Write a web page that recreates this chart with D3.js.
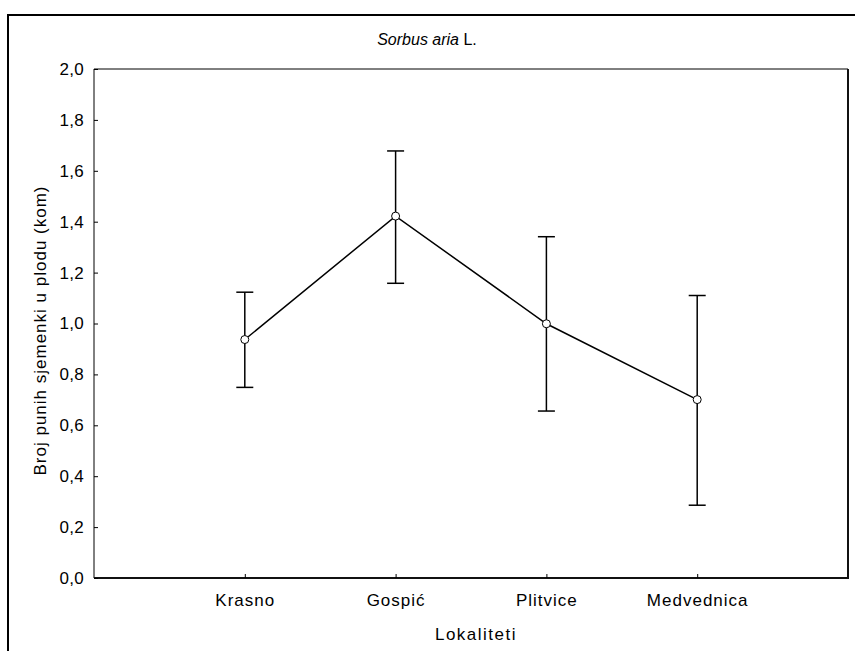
<!DOCTYPE html>
<html><head><meta charset="utf-8">
<script src="https://cdn.jsdelivr.net/npm/d3@7"></script>
<style>
body{margin:0;background:#fff;}
text{font-family:"Liberation Sans",Arial,sans-serif;fill:#000;}
</style></head><body>
<script>
const categories = ["Krasno","Gospić","Plitvice","Medvednica"];
const means = [0.937, 1.422, 0.999, 0.701];
const upper = [1.123, 1.678, 1.341, 1.110];
const lower = [0.749, 1.158, 0.656, 0.286];
const yTicks = [0,0.2,0.4,0.6,0.8,1.0,1.2,1.4,1.6,1.8,2.0];
const title = "Sorbus aria";
const xTitle = "Lokaliteti";
const yTitle = "Broj punih sjemenki u plodu (kom)";

const W=855,H=651;
const svg=d3.select("body").append("svg").attr("width",W).attr("height",H);
svg.append("rect").attr("width",W).attr("height",H).attr("fill","#fff");
// outer frame
svg.append("path").attr("d","M8,700 L8,15 L860,15").attr("fill","none").attr("stroke","#000").attr("stroke-width",2);

const L=94,R=848,T=69,B=578;
const x=d3.scaleLinear().domain([0,categories.length+1]).range([L,R]);
const y=d3.scaleLinear().domain([0,2]).range([B,T]);

// plot frame
svg.append("path").attr("d",`M${L},${B} L${L},${T} L${R},${T}`).attr("fill","none").attr("stroke","#000").attr("stroke-width",1);
svg.append("path").attr("d",`M${L},${B} L${R},${B} L${R},${T}`).attr("fill","none").attr("stroke","#111").attr("stroke-width",2);

// y axis
const ya=svg.append("g").attr("transform",`translate(${L},0)`)
 .call(d3.axisLeft(y).tickValues(yTicks).tickSize(-4).tickPadding(10).tickFormat(d=>d3.format(".1f")(d).replace(".",",")));
ya.select(".domain").remove();
ya.selectAll("line").attr("stroke","#000");
ya.selectAll("text").attr("font-size",17).style("letter-spacing","0.3px").attr("font-family","Liberation Sans, Arial, sans-serif");

// x axis
const xa=svg.append("g").attr("transform",`translate(0,${B})`)
 .call(d3.axisBottom(x).tickValues(categories.map((c,i)=>i+1)).tickSize(-4).tickPadding(16).tickFormat((d,i)=>categories[i]));
xa.select(".domain").remove();
xa.selectAll("line").attr("stroke","#000");
xa.selectAll("text").attr("font-size",17).style("letter-spacing","1px").attr("font-family","Liberation Sans, Arial, sans-serif");

// error bars
const g=svg.append("g");
categories.forEach((c,i)=>{
  const cx=x(i+1);
  g.append("line").attr("x1",cx).attr("x2",cx).attr("y1",y(upper[i])).attr("y2",y(lower[i])).attr("stroke","#000").attr("stroke-width",1.5);
  [upper[i],lower[i]].forEach(v=>g.append("line").attr("x1",cx-8.5).attr("x2",cx+8.5).attr("y1",y(v)).attr("y2",y(v)).attr("stroke","#000").attr("stroke-width",1.5));
});
// line
g.append("path").datum(means).attr("d",d3.line().x((d,i)=>x(i+1)).y(d=>y(d))).attr("fill","none").attr("stroke","#000").attr("stroke-width",1.5);
g.selectAll("circle").data(means).join("circle").attr("cx",(d,i)=>x(i+1)).attr("cy",d=>y(d)).attr("r",4).attr("fill","#fff").attr("stroke","#000").attr("stroke-width",1);

// titles
const t=svg.append("text").attr("x",427).attr("y",45).attr("text-anchor","middle").attr("font-size",16);
t.append("tspan").attr("font-style","italic").text(title);
t.append("tspan").text(" L.");
svg.append("text").attr("x",476).attr("y",640).attr("text-anchor","middle").attr("font-size",17).style("letter-spacing","1.5px").text(xTitle);
svg.append("text").attr("transform",`translate(46,${(T+B)/2+7}) rotate(-90)`).attr("text-anchor","middle").attr("font-size",17).style("letter-spacing","1px").text(yTitle);
</script>
</body></html>
